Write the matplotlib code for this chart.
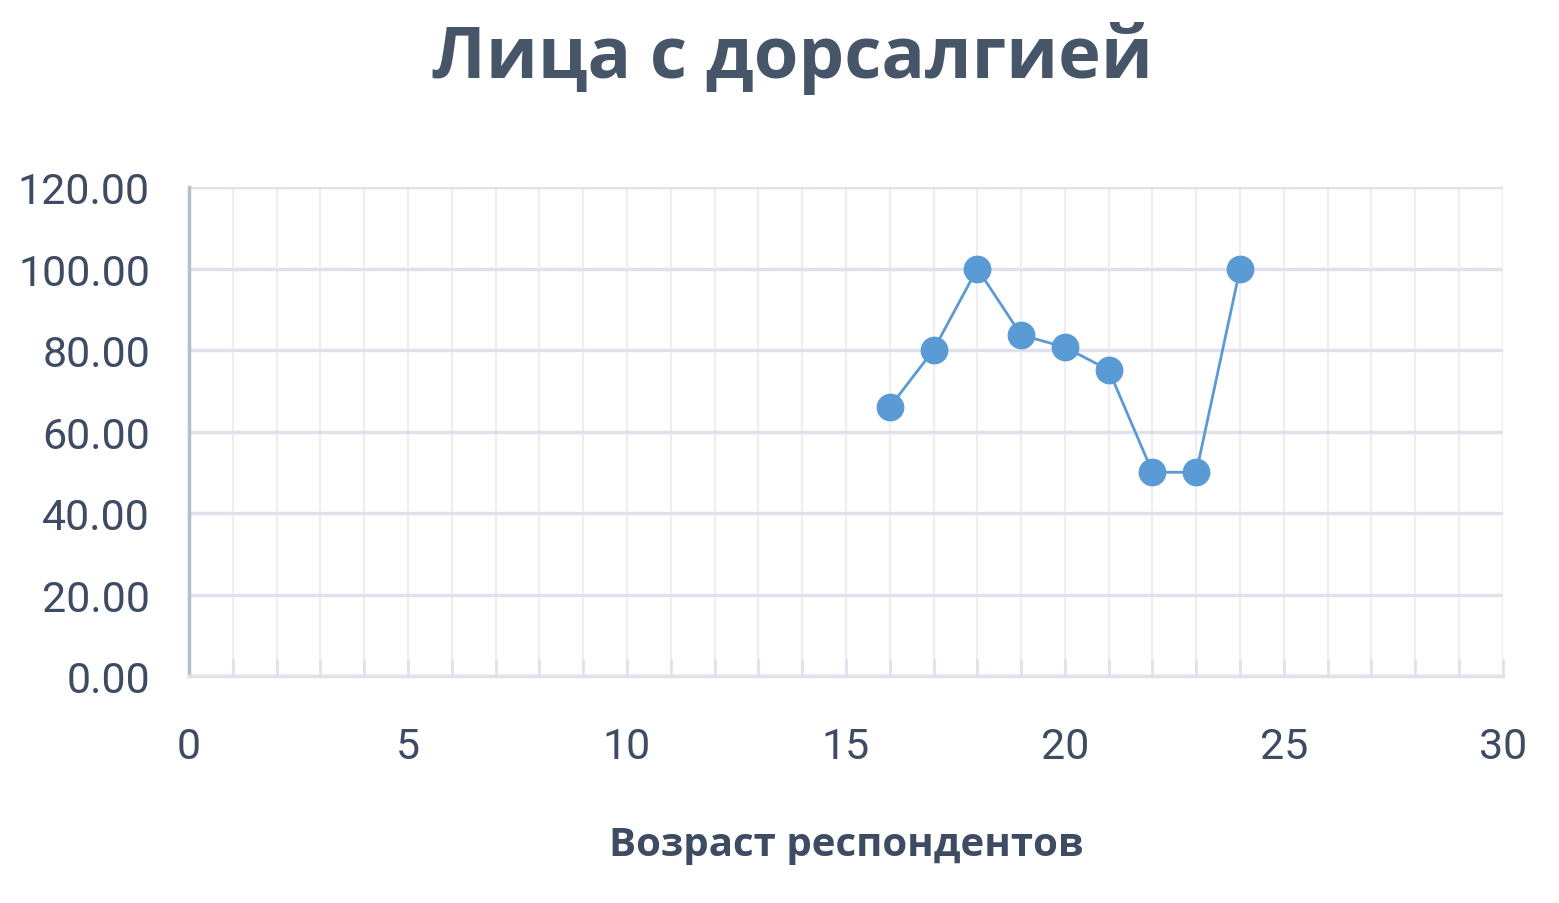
import matplotlib
matplotlib.use("Agg")
import matplotlib.pyplot as plt
from matplotlib.ticker import MultipleLocator, FormatStrFormatter

ages = [16, 17, 18, 19, 20, 21, 22, 23, 24]
values = [66.0, 80.0, 100.0, 83.7, 80.7, 75.1, 50.0, 50.0, 100.0]

fig = plt.figure(figsize=(15.59, 9.04), dpi=100)
ax = fig.add_axes([0.1212, 0.2511, 0.8428, 0.5409])
ax.plot(ages, values, color="#5b9bd5", lw=2, marker="o", ms=19, zorder=3)
ax.set_xlim(0, 30)
ax.set_ylim(0, 120)
ax.xaxis.set_major_locator(MultipleLocator(5))
ax.xaxis.set_minor_locator(MultipleLocator(1))
ax.yaxis.set_major_locator(MultipleLocator(20))
ax.yaxis.set_major_formatter(FormatStrFormatter("%.2f"))
ax.grid(True, which="both", axis="x", color="#eceef3", lw=1.5)
ax.grid(True, which="major", axis="y", color="#dfe2ea", lw=2.5)
for s in ["top", "right"]:
    ax.spines[s].set_visible(False)
ax.spines["left"].set_color("#b4bfcc"); ax.spines["left"].set_linewidth(2.5)
ax.spines["bottom"].set_color("#dfe2ea"); ax.spines["bottom"].set_linewidth(2.5)
ax.tick_params(axis="y", length=0, pad=28, labelsize=31, labelcolor="#3d4b63")
ax.tick_params(axis="x", which="both", direction="in", length=12, color="#dfe2ea", width=2,
               pad=36, labelsize=31, labelcolor="#3d4b63")
for t in ax.get_xticklabels() + ax.get_yticklabels():
    t.set_fontfamily("Roboto")
ax.set_xlabel("Возраст респондентов", fontsize=29, fontweight="bold", color="#3d4b63",
              labelpad=42, fontfamily="Open Sans")
fig.text(0.508, 0.935, "Лица с дорсалгией", ha="center", va="center", fontsize=52,
         fontweight="bold", color="#465568", fontfamily="Open Sans")
fig.savefig("out.png", dpi=100, facecolor="white")
